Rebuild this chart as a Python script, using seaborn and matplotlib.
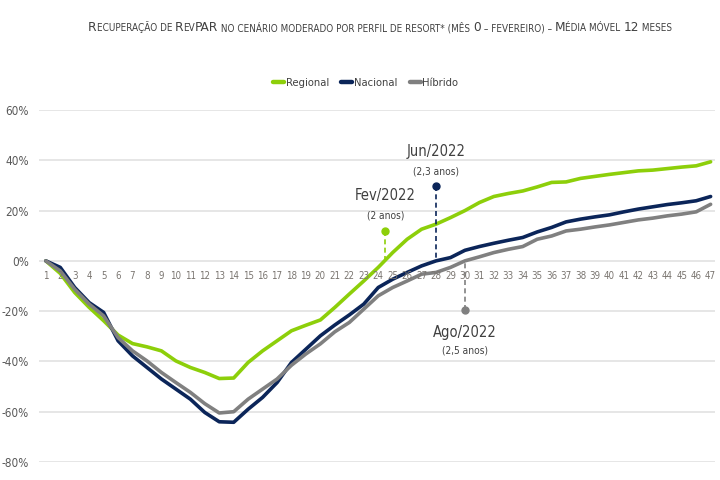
import numpy as np
import pandas as pd
import matplotlib
matplotlib.use("Agg")
import matplotlib.pyplot as plt
import seaborn as sns
from matplotlib.font_manager import FontProperties

FONTS = ["DejaVu Sans"]

months = list(range(1, 48))
regional = [0, -5, -12.6, -18.5, -23.8, -29.5, -32.9, -34.2, -35.8, -39.8,
            -42.4, -44.4, -46.8, -46.6, -40.4, -35.8, -31.8, -27.8, -25.6, -23.5,
            -18.5, -13.2, -8.0, -2.6, 3.3, 8.6, 12.6, 14.6, 17.2, 20.0,
            23.2, 25.6, 26.8, 27.8, 29.4, 31.2, 31.4, 32.8, 33.6, 34.4,
            35.1, 35.8, 36.1, 36.7, 37.3, 37.8, 39.4]
nacional = [0, -2.6, -10.6, -16.6, -20.5, -31.8, -37.8, -42.4, -47.0, -51.0,
            -55.0, -60.3, -64.0, -64.2, -59.0, -54.3, -48.4, -40.4, -35.1, -29.8,
            -25.5, -21.5, -17.2, -10.6, -7.3, -4.6, -2.0, 0.0, 1.3, 4.2,
            5.7, 7.0, 8.2, 9.3, 11.5, 13.3, 15.5, 16.6, 17.5, 18.3,
            19.5, 20.6, 21.5, 22.4, 23.1, 23.9, 25.6]
hibrido = [0, -4.0, -11.3, -17.2, -21.9, -30.5, -35.8, -39.8, -44.4, -48.4,
           -52.3, -56.8, -60.5, -60.0, -55.0, -51.0, -47.0, -41.5, -37.0, -33.0,
           -28.2, -24.5, -19.2, -13.9, -10.6, -8.0, -5.3, -4.6, -2.6, 0.0,
           1.6, 3.3, 4.6, 5.7, 8.6, 9.9, 11.9, 12.6, 13.5, 14.3,
           15.3, 16.3, 17.0, 17.9, 18.6, 19.5, 22.5]

series_names = ["Regional", "Nacional", "Híbrido"]
colors = {"Regional": "#8DCF0A", "Nacional": "#0B2559", "Híbrido": "#808080"}

# marcos de recuperação
marco_labels = ["Fev/2022", "Jun/2022", "Ago/2022"]
marco_sub = ["(2 anos)", "(2,3 anos)", "(2,5 anos)"]
marco_series = ["Regional", "Nacional", "Híbrido"]
marco_x = [24.5, 28, 30]
marco_y = [12.0, 29.6, -19.5]

yticks = [-80, -60, -40, -20, 0, 20, 40, 60]

df = pd.DataFrame({
    "mes": months * 3,
    "valor": regional + nacional + hibrido,
    "perfil": [n for n in series_names for _ in months],
})

sns.set_theme(style="white")
plt.rcParams["font.family"] = FONTS
plt.rcParams["font.stretch"] = "condensed"

fig, ax = plt.subplots(figsize=(7.2, 4.8), dpi=100)
ax.set_position([0.054, 0.0375, 0.939, 0.7333])

sns.lineplot(data=df, x="mes", y="valor", hue="perfil", hue_order=series_names,
             palette=colors, linewidth=2.6, ax=ax, legend=True)

ax.set_xlim(0.52, 47.3)
ax.set_ylim(-80, 60)
ax.set_yticks(yticks)
ax.set_yticklabels([f"{v}%" for v in yticks], color="#595959", fontsize=8.5)
ax.tick_params(axis="y", length=0, pad=7)
ax.set_xticks([])
ax.set_xlabel("")
ax.set_ylabel("")
ax.yaxis.grid(True, color="#e4e4e4", linewidth=1.3)
ax.set_axisbelow(True)
for s in ax.spines.values():
    s.set_visible(False)

# rótulos dos meses logo abaixo da linha de 0%
for m in months:
    ax.annotate(str(m), (m, 0), xytext=(0, -11), textcoords="offset points",
                ha="center", va="center", fontsize=7, color="#7a7570")

# marcos
series_vals = {"Regional": regional, "Nacional": nacional, "Híbrido": hibrido}
for lab, sub, ser, mx, my in zip(marco_labels, marco_sub, marco_series, marco_x, marco_y):
    c = colors[ser]
    curve_y = np.interp(mx, months, series_vals[ser])
    ax.plot([mx, mx], [my, curve_y], color=c, lw=1.2, ls=(0, (3, 2)))
    ax.plot(mx, my, "o", color=c, ms=5)
    if my > curve_y:
        ax.annotate(lab, (mx, my), xytext=(0, 25), textcoords="offset points",
                    ha="center", va="center", fontsize=10.5, color="#404040")
        ax.annotate(sub, (mx, my), xytext=(0, 11), textcoords="offset points",
                    ha="center", va="center", fontsize=7.3, color="#404040")
    else:
        ax.annotate(lab, (mx, my), xytext=(0, -16), textcoords="offset points",
                    ha="center", va="center", fontsize=10.5, color="#404040")
        ax.annotate(sub, (mx, my), xytext=(0, -29.5), textcoords="offset points",
                    ha="center", va="center", fontsize=7.3, color="#404040")

# legenda
handles, labels = ax.get_legend_handles_labels()
ax.get_legend().remove()
for h in handles:
    h.set_linewidth(3.2)
fig.legend(handles, labels, loc="center", bbox_to_anchor=(0.508, 0.827), ncol=3,
           frameon=False, fontsize=8, handlelength=1.0, handletextpad=0.15,
           columnspacing=1.1, labelcolor="#404040")

# título em versalete (letras maiúsculas grandes e pequenas)
title_parts = [("R", True), ("ECUPERAÇÃO DE ", False), ("R", True), ("EV", False),
               ("PAR", True), (" NO CENÁRIO MODERADO POR PERFIL DE RESORT* (MÊS ", False),
               ("0", True), (" – FEVEREIRO) – ", False), ("M", True),
               ("ÉDIA MÓVEL ", False), ("12", True), (" MESES", False)]
renderer = fig.canvas.get_renderer()
props = {True: FontProperties(family=FONTS, size=9.7, stretch="condensed"),
         False: FontProperties(family=FONTS, size=7.1, stretch="condensed")}
widths = []
for txt, big in title_parts:
    fp = props[big]
    w_bar = renderer.get_text_width_height_descent("|", fp, ismath=False)[0]
    w = renderer.get_text_width_height_descent(txt + "|", fp, ismath=False)[0] - w_bar
    widths.append(w)
fig_w = fig.get_figwidth() * fig.dpi
x = (fig_w - sum(widths)) / 2 + 20
for (txt, big), w in zip(title_parts, widths):
    fig.text(x / fig_w, 0.935, txt, fontproperties=props[big], color="#404040",
             ha="left", va="baseline")
    x += w

fig.savefig("out.png", dpi=100)
